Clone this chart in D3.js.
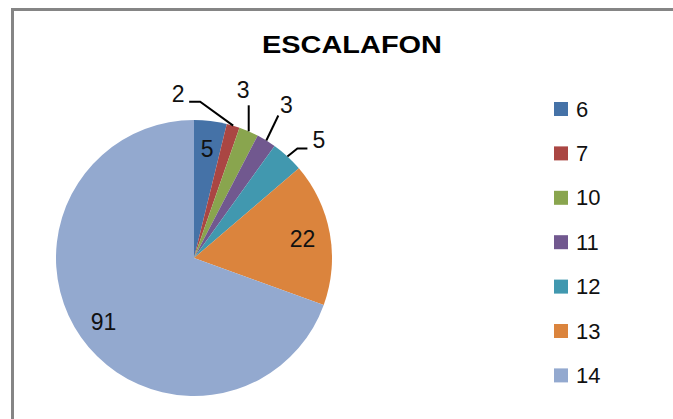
<!DOCTYPE html>
<html><head><meta charset="utf-8">
<script src="https://cdn.jsdelivr.net/npm/d3@7"></script>
<style>body{margin:0;background:#fff}svg{display:block}</style>
</head><body>
<script>
const title = "ESCALAFON";
const categories = ["6", "7", "10", "11", "12", "13", "14"];
const values = [5, 2, 3, 3, 5, 22, 91];
const colors = ["#4572A7", "#AA4643", "#89A54E", "#71588F", "#4198AF", "#DB843D", "#93A9CF"];
// which labels sit outside with leader lines (true) vs inside (false)
const outside = [false, true, true, true, true, false, false];

const W = 673, H = 419;
const cx = 194, cy = 258, R = 138;
const svg = d3.select("body").append("svg").attr("width", W).attr("height", H);

// chart border
svg.append("rect").attr("x", 12.5).attr("y", 9.5).attr("width", 700).attr("height", 500)
  .attr("fill", "none").attr("stroke", "#858585").attr("stroke-width", 3);

svg.append("text").attr("x", 352).attr("y", 53).attr("text-anchor", "middle")
  .attr("font-family", "Liberation Sans, Arial, sans-serif").attr("font-weight", "bold")
  .attr("font-size", 23.5).attr("textLength", 180).attr("lengthAdjust", "spacingAndGlyphs")
  .text(title);

const data = categories.map((c, i) => ({cat: c, v: values[i], col: colors[i], out: outside[i]}));
const pie = d3.pie().value(d => d.v).sort(null);
const arcs = pie(data);
const arc = d3.arc().innerRadius(0).outerRadius(R);
const g = svg.append("g").attr("transform", `translate(${cx},${cy})`);
g.selectAll("path").data(arcs).join("path").attr("d", arc).attr("fill", d => d.data.col);

const font = "Liberation Sans, Arial, sans-serif";
const lblSize = 23;
// inside labels
arcs.filter(a => !a.data.out).forEach(a => {
  const mid = (a.startAngle + a.endAngle) / 2;
  const x = 0.8 * R * Math.sin(mid), y = -0.8 * R * Math.cos(mid);
  g.append("text").attr("x", x).attr("y", y + 9).attr("text-anchor", "middle")
    .attr("font-family", font).attr("font-size", lblSize).attr("fill", "#111").text(a.data.v);
});

// outside labels with leader lines: polyline offsets from the slice edge, and text offset
const leaders = {
  "7":  {pts: [[-33, -24], [-44, -24]], txt: [-55, -24]},
  "10": {pts: [[0, -26]], txt: [-5.5, -33]},
  "11": {pts: [[12, -25]], txt: [20, -27]},
  "12": {pts: [[10, -8], [20, -8]], txt: [31.5, -8]}
};
arcs.filter(a => a.data.out).forEach(a => {
  const mid = (a.startAngle + a.endAngle) / 2;
  const ex = R * Math.sin(mid), ey = -R * Math.cos(mid);
  const L = leaders[a.data.cat];
  const pts = [[ex, ey]].concat(L.pts.map(p => [ex + p[0], ey + p[1]]));
  g.append("path").attr("d", d3.line()(pts)).attr("fill", "none")
    .attr("stroke", "#000").attr("stroke-width", 2);
  g.append("text").attr("x", ex + L.txt[0]).attr("y", ey + L.txt[1]).attr("text-anchor", "middle")
    .attr("font-family", font).attr("font-size", lblSize).attr("fill", "#111").text(a.data.v);
});

// legend
const lg = svg.append("g").attr("transform", "translate(554,102)");
const row = lg.selectAll("g").data(data).join("g").attr("transform", (d, i) => `translate(0,${i * 44.4})`);
row.append("rect").attr("width", 14).attr("height", 14).attr("fill", d => d.col);
row.append("text").attr("x", 22).attr("y", 14.5).attr("font-family", font)
  .attr("font-size", 22).attr("fill", "#111").text(d => d.cat);
</script>
</body></html>
